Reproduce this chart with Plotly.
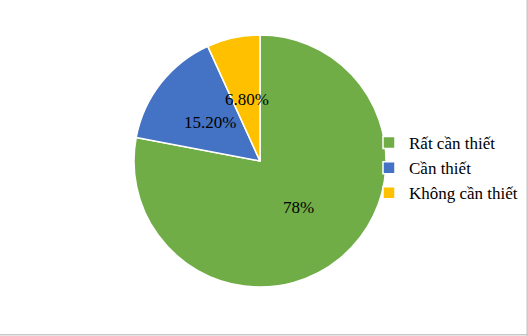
import math
import plotly.graph_objects as go

labels = ["Rất cần thiết", "Cần thiết", "Không cần thiết"]
values = [78.0, 15.2, 6.8]
text_labels = ["78%", "15.20%", "6.80%"]
colors = ["#70AD47", "#4472C4", "#FFC000"]

W, H = 528, 336
cx, cy, r = 260, 161, 126
label_frac = [0.48, 0.5, 0.5]

fig = go.Figure(go.Pie(
    labels=labels,
    values=values,
    textinfo="none",
    sort=False,
    direction="clockwise",
    rotation=0,
    marker=dict(colors=colors, line=dict(color="white", width=1.5)),
    domain=dict(x=[(cx - r) / W, (cx + r) / W], y=[(H - cy - r) / H, (H - cy + r) / H]),
    hoverinfo="label+percent",
))

# data labels placed at the middle angle of each slice
total = sum(values)
cum = 0.0
annotations = []
for v, t, f in zip(values, text_labels, label_frac):
    mid = (cum + v / 2) / total * 2 * math.pi
    cum += v
    px = cx + f * r * math.sin(mid)
    py = (H - cy) + f * r * math.cos(mid)
    annotations.append(dict(x=px / W, y=py / H, xref="paper", yref="paper",
                            xanchor="center", yanchor="middle",
                            text=t, showarrow=False,
                            font=dict(family="Liberation Serif", size=17, color="black")))

fig.update_layout(
    width=W, height=H,
    margin=dict(l=0, r=0, t=0, b=0, autoexpand=False),
    paper_bgcolor="white",
    plot_bgcolor="white",
    font=dict(family="Liberation Serif", size=17, color="black"),
    legend=dict(x=369 / W, y=0.5, xanchor="left", yanchor="middle",
                font=dict(family="Liberation Serif", size=17, color="black"),
                tracegroupgap=0, bgcolor="rgba(0,0,0,0)"),
    annotations=annotations,
    shapes=[
        dict(type="line", xref="paper", yref="paper", x0=0, x1=1, y0=0.004, y1=0.004,
             line=dict(color="#C8C8C8", width=1.5)),
        dict(type="line", xref="paper", yref="paper", x0=0.9985, x1=0.9985, y0=0, y1=1,
             line=dict(color="#C8C8C8", width=1.5)),
    ],
)

fig.write_html("out.html")
